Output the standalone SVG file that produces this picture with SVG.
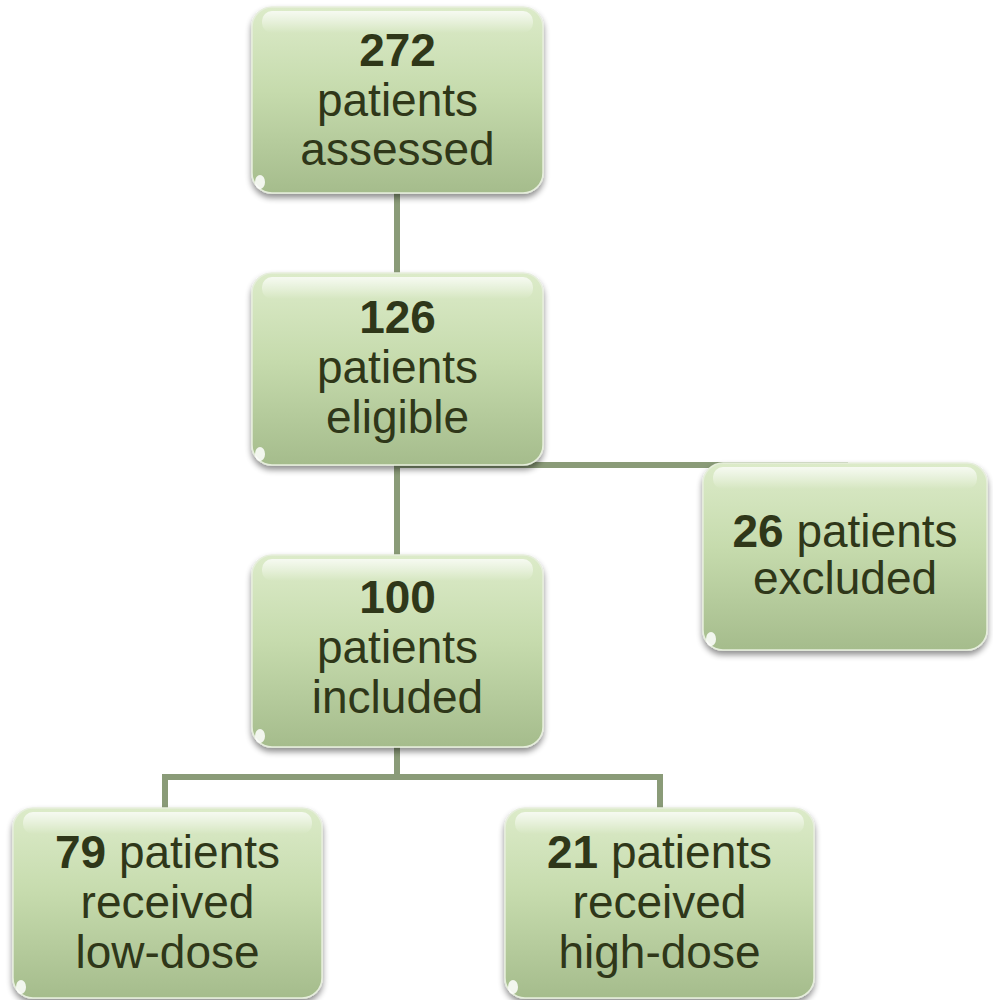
<svg xmlns="http://www.w3.org/2000/svg" width="993" height="1000" viewBox="0 0 993 1000">
  <defs>
    <linearGradient id="boxFill" x1="0" y1="0" x2="0" y2="1">
      <stop offset="0" stop-color="#dcebc9"/>
      <stop offset="0.45" stop-color="#c6dbad"/>
      <stop offset="1" stop-color="#a5bc8c"/>
    </linearGradient>
    <linearGradient id="gloss" x1="0" y1="0" x2="0" y2="1">
      <stop offset="0" stop-color="#ffffff" stop-opacity="0.75"/>
      <stop offset="1" stop-color="#ffffff" stop-opacity="0"/>
    </linearGradient>
    <filter id="shadow" x="-10%" y="-10%" width="120%" height="125%">
      <feGaussianBlur in="SourceAlpha" stdDeviation="3"/>
      <feOffset dx="0" dy="4" result="b"/>
      <feComponentTransfer><feFuncA type="linear" slope="0.45"/></feComponentTransfer>
      <feMerge><feMergeNode/><feMergeNode in="SourceGraphic"/></feMerge>
    </filter>
  </defs>
  <style>
    .box { fill: url(#boxFill); stroke: #e6eedc; stroke-width: 1.5; filter: url(#shadow); }
    .gl { fill: url(#gloss); }
    .blob { fill: #ffffff; opacity: 0.85; }
    .conn { fill: none; stroke: #8a9b78; stroke-width: 6; }
    .t { font-family: "Liberation Sans", Arial, sans-serif; font-size: 46px; fill: #2f3719; text-anchor: middle; }
    .b { font-weight: bold; }
  </style>
  <g id="connectors">
    <path class="conn" d="M397 190 V276"/>
    <path class="conn" d="M397 462 V558"/>
    <path class="conn" d="M397 465 H848"/>
    <path class="conn" d="M397 744 V777"/>
    <path class="conn" d="M165 811 V777 H660 V811"/>
  </g>
  <g id="n272">
    <rect class="box" x="252" y="7" width="291" height="186" rx="20"/>
    <rect class="gl" x="262" y="11" width="271" height="22" rx="10"/>
    <ellipse class="blob" cx="260" cy="182" rx="5" ry="7"/>
    <text class="t"><tspan class="b" x="397.5" y="66">272</tspan><tspan x="397.5" y="116">patients</tspan><tspan x="397.5" y="165">assessed</tspan></text>
  </g>
  <g id="n126">
    <rect class="box" x="252" y="273" width="291" height="192" rx="20"/>
    <rect class="gl" x="262" y="277" width="271" height="22" rx="10"/>
    <ellipse class="blob" cx="260" cy="454" rx="5" ry="7"/>
    <text class="t"><tspan class="b" x="397.5" y="333">126</tspan><tspan x="397.5" y="383">patients</tspan><tspan x="397.5" y="433">eligible</tspan></text>
  </g>
  <g id="n100">
    <rect class="box" x="252" y="555" width="291" height="192" rx="20"/>
    <rect class="gl" x="262" y="559" width="271" height="22" rx="10"/>
    <ellipse class="blob" cx="260" cy="736" rx="5" ry="7"/>
    <text class="t"><tspan class="b" x="397.5" y="613">100</tspan><tspan x="397.5" y="663">patients</tspan><tspan x="397.5" y="713">included</tspan></text>
  </g>
  <g id="n26">
    <rect class="box" x="703" y="463" width="284" height="187" rx="20"/>
    <rect class="gl" x="713" y="467" width="264" height="22" rx="10"/>
    <ellipse class="blob" cx="711" cy="639" rx="5" ry="7"/>
    <text class="t"><tspan x="845" y="547"><tspan class="b">26</tspan> patients</tspan><tspan x="845" y="594">excluded</tspan></text>
  </g>
  <g id="n79">
    <rect class="box" x="13" y="808" width="309" height="190" rx="20"/>
    <rect class="gl" x="23" y="812" width="289" height="22" rx="10"/>
    <ellipse class="blob" cx="21" cy="987" rx="5" ry="7"/>
    <text class="t"><tspan x="167.5" y="868"><tspan class="b">79</tspan> patients</tspan><tspan x="167.5" y="918">received</tspan><tspan x="167.5" y="968">low-dose</tspan></text>
  </g>
  <g id="n21">
    <rect class="box" x="505" y="808" width="309" height="190" rx="20"/>
    <rect class="gl" x="515" y="812" width="289" height="22" rx="10"/>
    <ellipse class="blob" cx="513" cy="987" rx="5" ry="7"/>
    <text class="t"><tspan x="659.5" y="868"><tspan class="b">21</tspan> patients</tspan><tspan x="659.5" y="918">received</tspan><tspan x="659.5" y="968">high-dose</tspan></text>
  </g>
</svg>
